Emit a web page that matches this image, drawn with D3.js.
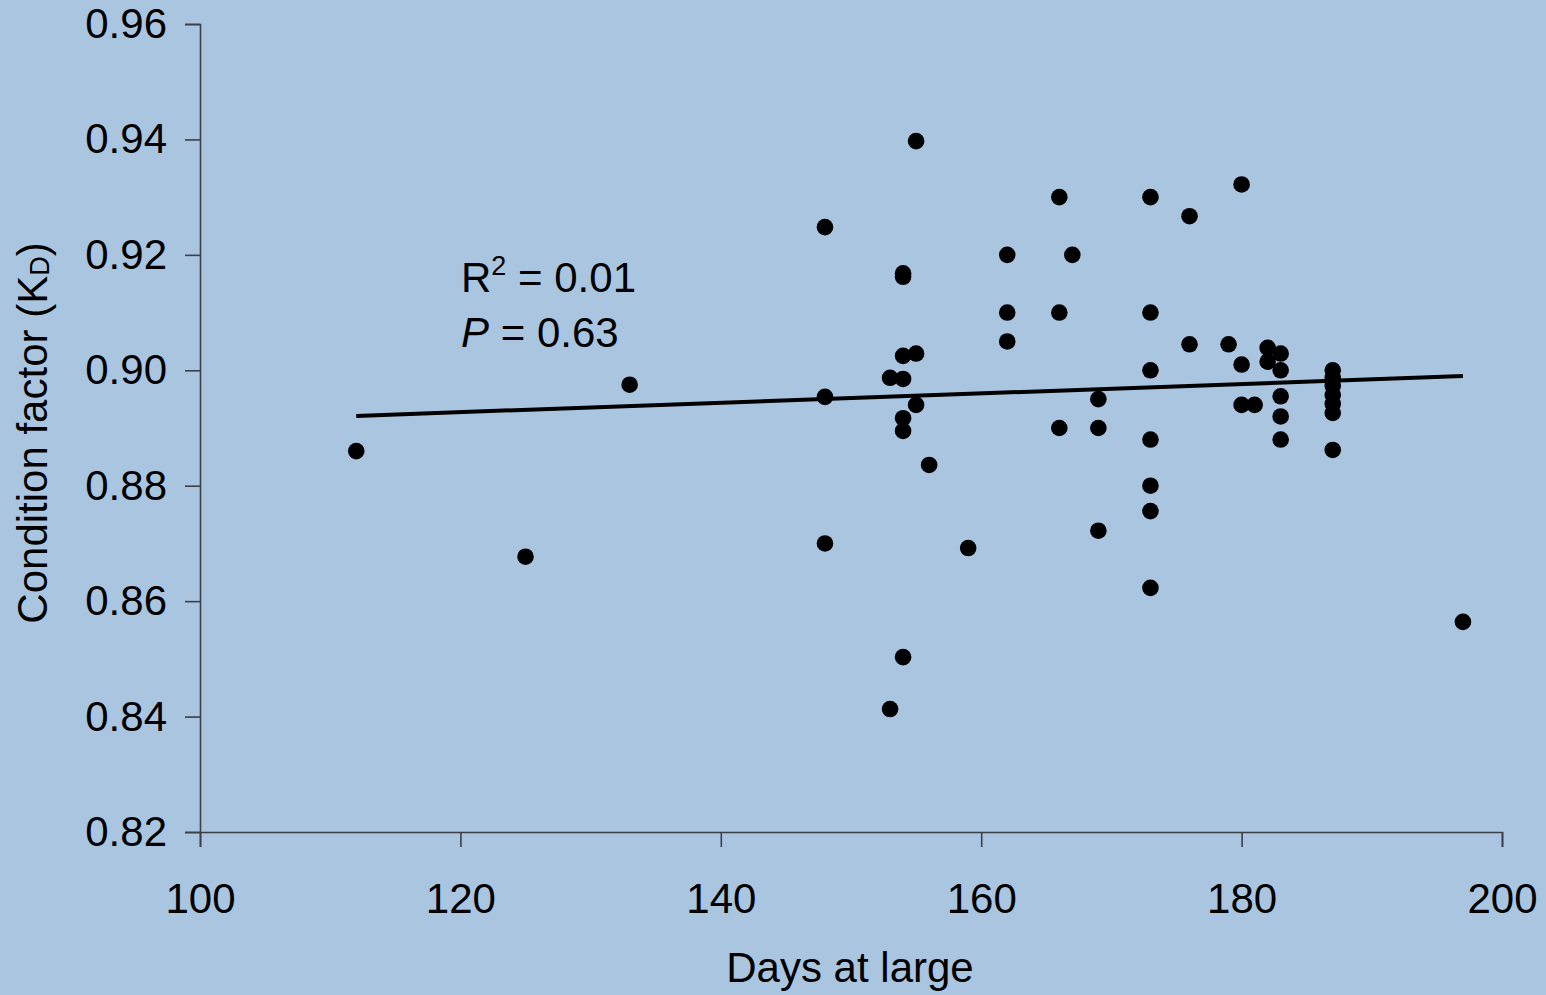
<!DOCTYPE html>
<html>
<head>
<meta charset="utf-8">
<script src="https://cdn.jsdelivr.net/npm/d3@7"></script>
<style>
  html, body { margin: 0; padding: 0; background: #a9c5e0; }
  svg { display: block; }
  text { font-family: "Liberation Sans", Arial, sans-serif; fill: #000; }
</style>
</head>
<body>
<svg id="chart" width="1546" height="995"></svg>
<script>
// Data
const days = [112, 125, 133, 148, 148, 148, 153, 153, 154, 154, 154, 154, 154, 154, 154, 155, 155, 155,
  156, 159, 162, 162, 162, 166, 166, 166, 167, 169, 169, 169,
  173, 173, 173, 173, 173, 173, 173, 176, 176, 179, 180, 180, 180, 181,
  182, 182, 183, 183, 183, 183, 183, 187, 187, 187, 187, 187, 187, 187, 197];
const condition = [0.8860, 0.8677, 0.8975, 0.9248, 0.8954, 0.8700, 0.8987, 0.8413, 0.9168, 0.9162, 0.9025, 0.8917, 0.8895, 0.8503, 0.8985, 0.9397, 0.9029, 0.8940,
  0.8836, 0.8692, 0.9200, 0.9100, 0.9050, 0.9300, 0.9100, 0.8900, 0.9200, 0.8950, 0.8900, 0.8722,
  0.9300, 0.9100, 0.9000, 0.8880, 0.8800, 0.8756, 0.8623, 0.9267, 0.9045, 0.9045, 0.9322, 0.9010, 0.8940, 0.8940,
  0.9039, 0.9015, 0.9029, 0.9000, 0.8955, 0.8920, 0.8880, 0.9000, 0.8987, 0.8973, 0.8957, 0.8942, 0.8926, 0.8862, 0.8564];

// Fitted trend line endpoints
const fitDays = [112, 197];
const fitCondition = [0.8921, 0.8990];

const xTicks = [100, 120, 140, 160, 180, 200];
const yTicks = [0.82, 0.84, 0.86, 0.88, 0.90, 0.92, 0.94, 0.96];

const statR2 = "0.01";
const statP = "0.63";

const svg = d3.select("#chart");
const margin = { left: 200, top: 24, right: 44, bottom: 163 };
const W = 1546, H = 995;
const x = d3.scaleLinear().domain([100, 200]).range([margin.left, W - margin.right]);
const y = d3.scaleLinear().domain([0.82, 0.96]).range([H - margin.bottom, margin.top]);

const fontSize = 42;
const axisColor = "#3a3f48";

// X axis
const gx = svg.append("g")
  .attr("transform", `translate(0,${y(0.82)})`)
  .call(d3.axisBottom(x).tickValues(xTicks).tickSize(15).tickPadding(36).tickFormat(d3.format("d")));
// Y axis
const gy = svg.append("g")
  .attr("transform", `translate(${x(100)},0)`)
  .call(d3.axisLeft(y).tickValues(yTicks).tickSize(15).tickPadding(18).tickFormat(d3.format(".2f")));

[gx, gy].forEach(g => {
  g.select(".domain").attr("stroke", axisColor).attr("stroke-width", 1.6);
  g.selectAll(".tick line").attr("stroke", axisColor).attr("stroke-width", 1.6);
  g.selectAll(".tick text").attr("font-size", fontSize)
    .attr("font-family", "Liberation Sans, Arial, sans-serif").attr("fill", "#000");
});

// Axis titles
svg.append("text")
  .attr("x", 850).attr("y", 982)
  .attr("text-anchor", "middle")
  .attr("font-size", fontSize)
  .text("Days at large");

const yt = svg.append("text")
  .attr("transform", `translate(47,433) rotate(-90)`)
  .attr("text-anchor", "middle")
  .attr("font-size", fontSize);
yt.append("tspan").text("Condition factor (K");
yt.append("tspan").attr("font-size", 27).attr("dy", 2).text("D");
yt.append("tspan").attr("dy", -2).text(")");

// Points
svg.append("g").selectAll("circle")
  .data(days.map((d, i) => ({ d, v: condition[i] })))
  .join("circle")
  .attr("cx", p => x(p.d))
  .attr("cy", p => y(p.v))
  .attr("r", 8.3)
  .attr("fill", "#000");

// Trend line
svg.append("line")
  .attr("x1", x(fitDays[0])).attr("y1", y(fitCondition[0]))
  .attr("x2", x(fitDays[1])).attr("y2", y(fitCondition[1]))
  .attr("stroke", "#000").attr("stroke-width", 4);

// Annotation
const a1 = svg.append("text").attr("x", 461).attr("y", 292).attr("font-size", fontSize);
a1.append("tspan").text("R");
a1.append("tspan").attr("font-size", 27).attr("dy", -17).text("2");
a1.append("tspan").attr("dy", 17).text(" = " + statR2);

const a2 = svg.append("text").attr("x", 461).attr("y", 347).attr("font-size", fontSize);
a2.append("tspan").attr("font-style", "italic").text("P");
a2.append("tspan").text(" = " + statP);
</script>
</body>
</html>
